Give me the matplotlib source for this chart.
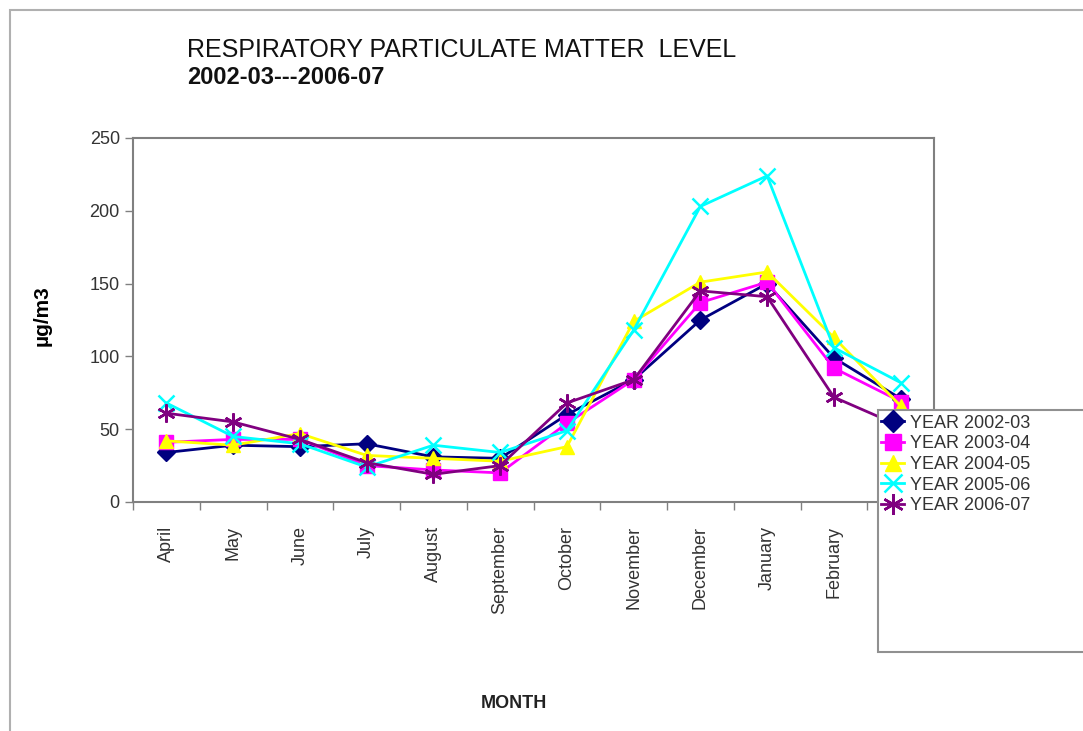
import matplotlib
matplotlib.use("Agg")
import matplotlib.pyplot as plt
from matplotlib.patches import Rectangle
from matplotlib.lines import Line2D

plt.rcParams['font.family'] = ['Liberation Sans', 'DejaVu Sans']

months = ["April", "May", "June", "July", "August", "September", "October",
          "November", "December", "January", "February", "March"]
series_names = ["YEAR 2002-03", "YEAR 2003-04", "YEAR 2004-05", "YEAR 2005-06", "YEAR 2006-07"]
y2002 = [34, 39, 38, 40, 31, 30, 60, 84, 125, 150, 99, 71]
y2003 = [41, 43, 43, 25, 22, 20, 54, 84, 137, 151, 92, 69]
y2004 = [42, 39, 47, 32, 30, 28, 38, 124, 151, 158, 113, 66]
y2005 = [68, 45, 40, 24, 39, 34, 49, 118, 203, 224, 106, 82]
y2006 = [61, 55, 43, 27, 19, 25, 68, 84, 145, 141, 72, 52]
all_series = [y2002, y2003, y2004, y2005, y2006]

colors = ["#000080", "#FF00FF", "#FFFF00", "#00FFFF", "#800080"]
markers = ["D", "s", "^", "x", (6, 2, 0)]
msizes = [9, 10, 10, 11, 13]

W, H = 1083, 731
fig = plt.figure(figsize=(W / 100, H / 100), dpi=100)

# outer chart frame
fig.add_artist(Rectangle((10 / W, -0.01), 1.1, 1 - 10 / H + 0.01, transform=fig.transFigure,
                         facecolor="none", edgecolor="#b0b0b0", linewidth=1.5, zorder=0))

ax = fig.add_axes([133 / W, 1 - 502 / H, (934 - 133) / W, (502 - 138) / H])
x = list(range(len(months)))
for vals, c, m, ms, name in zip(all_series, colors, markers, msizes, series_names):
    ax.plot(x, vals, color=c, marker=m, markersize=ms, linewidth=2,
            markeredgewidth=1.8 if m in ("x", (6, 2, 0)) else 1, markeredgecolor=c,
            label=name, clip_on=False)

ax.set_xlim(-0.5, len(months) - 0.5)
ax.set_ylim(0, 250)
ax.set_yticks([0, 50, 100, 150, 200, 250])
ax.set_xticks(x)
ax.set_xticklabels(months, rotation=90, fontsize=13, color="#333333")
ax.set_xticks([i - 0.5 for i in range(len(months) + 1)], minor=True)
ax.tick_params(axis="x", which="major", length=0, pad=17)
ax.tick_params(axis="x", which="minor", length=6, color="#808080", width=1)
ax.tick_params(axis="y", length=6, color="#808080", width=1, labelsize=13, labelcolor="#333333")
for sp in ax.spines.values():
    sp.set_color("#808080")
    sp.set_linewidth(1.5)

fig.text(187 / W, 1 - 50 / H, "RESPIRATORY PARTICULATE MATTER  LEVEL", fontsize=18,
         ha="left", va="center", color="#111111")
fig.text(187 / W, 1 - 78 / H, "2002-03---2006-07", fontsize=17, fontweight="bold",
         ha="left", va="center", color="#111111")
fig.text(42 / W, 1 - 316 / H, "µg/m3", fontsize=15, fontweight="bold", rotation=90,
         ha="center", va="center")
fig.text(514 / W, 1 - 703 / H, "MONTH", fontsize=13, fontweight="bold",
         ha="center", va="center", color="#222222")

# legend box
fig.add_artist(Rectangle((878 / W, 1 - 652 / H), 0.3, (652 - 410) / H, transform=fig.transFigure,
                         facecolor="white", edgecolor="#909090", linewidth=1.5, zorder=5))
handles = [Line2D([], [], color=c, marker=m, markersize=ms + 2, linewidth=2,
                  markeredgewidth=1.8 if m in ("x", (6, 2, 0)) else 1)
           for c, m, ms in zip(colors, markers, msizes)]
leg = fig.legend(handles, series_names, loc="upper left", bbox_to_anchor=(879 / W, 1 - 413 / H),
                 frameon=False, fontsize=13, handlelength=1.3, handletextpad=0.3,
                 labelspacing=0.2, borderaxespad=0, borderpad=0.1, labelcolor="#333333")
leg.set_zorder(6)

fig.savefig("out.png", dpi=100)
